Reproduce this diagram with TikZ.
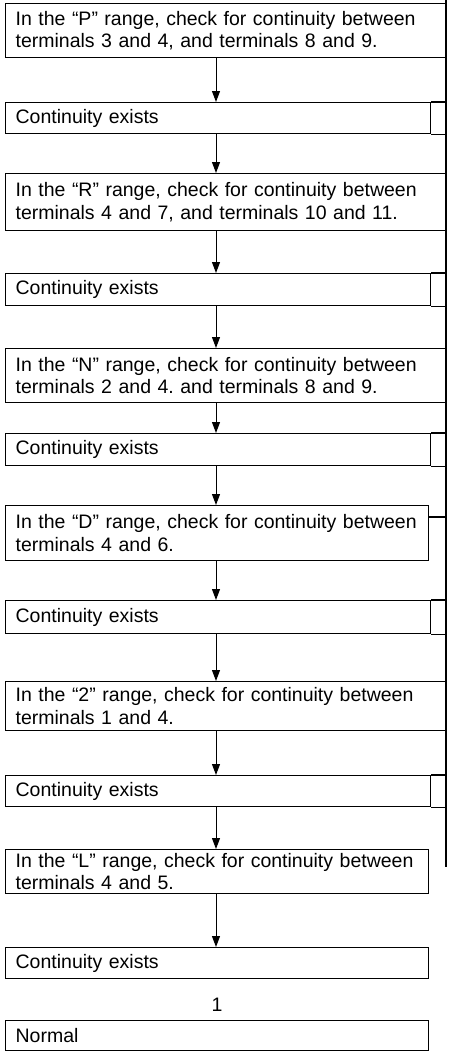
\documentclass[tikz,border=0pt]{standalone}
\usepackage{fontspec}
\setmainfont{Liberation Sans}
\usetikzlibrary{arrows.meta}
\begin{document}
\frenchspacing
\fontsize{19.5}{22.5}\selectfont
\spaceskip=0.34em plus 0.1em minus 0.05em\relax
\begin{tikzpicture}[x=1pt,y=1pt,
  every node/.style={font=\fontsize{19.5}{22.5}\selectfont},
  box/.style={draw, line width=1.3pt, rectangle, anchor=north west, align=left,
    inner xsep=10pt, inner ysep=0pt},
  arr/.style={line width=1pt, -{Triangle[length=11pt,width=8pt]}},
  side/.style={line width=1.3pt}]
\useasboundingbox (0,0) rectangle (449,-1053);
\coordinate (ax) at (216,0);
\coordinate (rl) at (446,0);
\coordinate (rtop) at (446,0);
\coordinate (rbot) at (446,-867);
% boxes
\node[box, text width=421pt, minimum height=54pt] (p) at (5,-3)
  {In the “P” range, check for continuity between\\terminals 3 and 4, and terminals 8 and 9.};
\node[box, text width=405pt, minimum height=31pt] (c1) at (5,-102) {Continuity exists};
\node[box, text width=421pt, minimum height=57pt] (r) at (5,-173)
  {In the “R” range, check for continuity between\\terminals 4 and 7, and terminals 10 and 11.};
\node[box, text width=405pt, minimum height=32pt] (c2) at (5,-273) {Continuity exists};
\node[box, text width=421pt, minimum height=54pt] (n) at (5,-348)
  {In the “N” range, check for continuity between\\terminals 2 and 4. and terminals 8 and 9.};
\node[box, text width=405pt, minimum height=32pt] (c3) at (5,-433) {Continuity exists};
\node[box, text width=403pt, minimum height=55pt] (d) at (5,-505)
  {In the “D” range, check for continuity between\\terminals 4 and 6.};
\node[box, text width=405pt, minimum height=33pt] (c4) at (5,-600) {Continuity exists};
\node[box, text width=421pt, minimum height=49pt] (t) at (5,-681)
  {In the “2” range, check for continuity between\\terminals 1 and 4.};
\node[box, text width=405pt, minimum height=31pt] (c5) at (5,-775) {Continuity exists};
\node[box, text width=403pt, minimum height=44pt] (l) at (5,-849)
  {In the “L” range, check for continuity between\\terminals 4 and 5.};
\node[box, text width=403pt, minimum height=31pt] (c6) at (5,-947) {Continuity exists};
\node (one) at (217,-1005) {1};
\node[box, text width=403pt, minimum height=30pt] (nm) at (5,-1020) {Normal};
% right line
\draw[line width=2.6pt] (rtop) -- (rbot);
% extensions of continuity boxes to the right line
\foreach \b in {c1,c2,c3,c4,c5}{
  \draw[side] (\b.north east) -- (\b.north east -| rl);
  \draw[side] (\b.south east) -- (\b.south east -| rl);
}
\draw[side] (d.east |- 0,-517) -- (rl |- 0,-517);
% arrows
\draw[arr] (p.south -| ax) -- (c1.north -| ax);
\draw[arr] (c1.south -| ax) -- (r.north -| ax);
\draw[arr] (r.south -| ax) -- (c2.north -| ax);
\draw[arr] (c2.south -| ax) -- (n.north -| ax);
\draw[arr] (n.south -| ax) -- (c3.north -| ax);
\draw[arr] (c3.south -| ax) -- (d.north -| ax);
\draw[arr] (d.south -| ax) -- (c4.north -| ax);
\draw[arr] (c4.south -| ax) -- (t.north -| ax);
\draw[arr] (t.south -| ax) -- (c5.north -| ax);
\draw[arr] (c5.south -| ax) -- (l.north -| ax);
\draw[arr] (l.south -| ax) -- (c6.north -| ax);
\end{tikzpicture}
\end{document}
